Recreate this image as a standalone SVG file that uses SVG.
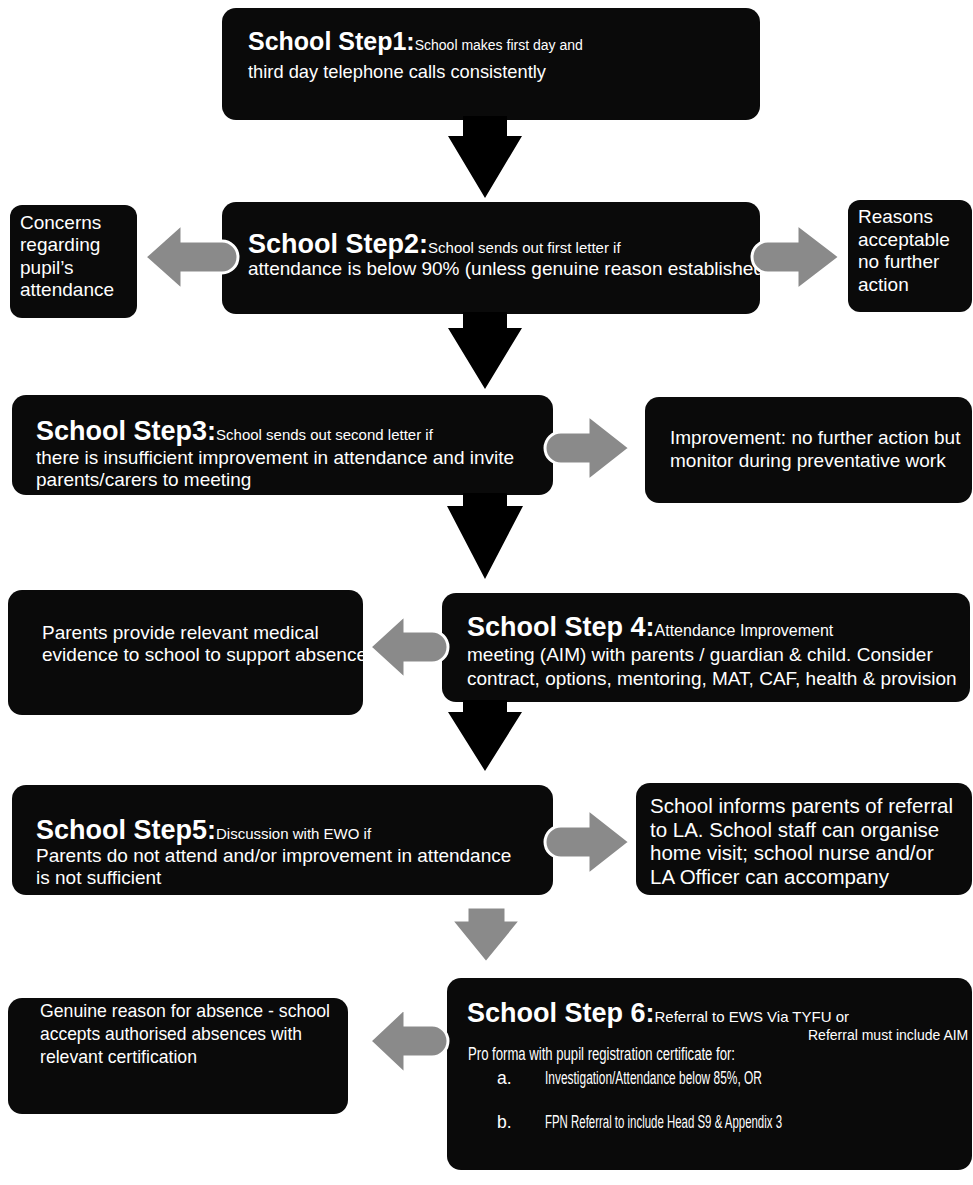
<svg xmlns="http://www.w3.org/2000/svg" width="973" height="1185" viewBox="0 0 973 1185">
<style>
.box{fill:#0a0a0a}
.h{font-family:"Liberation Sans",Arial,sans-serif;font-weight:bold;font-size:27px;fill:#fff}
.s{font-weight:normal;font-size:15px}
.t{font-family:"Liberation Sans",Arial,sans-serif;font-size:19px;fill:#fff}
.c{font-family:"Liberation Sans",Arial,sans-serif;font-size:17.5px;fill:#fff}
.ga{fill:#8a8a8a;stroke:#fff;stroke-width:3}
.ba{fill:#000}
</style>
<defs>
<clipPath id="cb2"><rect x="222" y="202" width="538" height="112" rx="14"/></clipPath>
<clipPath id="cpar"><rect x="8" y="590" width="355" height="125" rx="14"/></clipPath>
<clipPath id="cgen"><rect x="8" y="998" width="340" height="116" rx="14"/></clipPath>
</defs>
<rect width="973" height="1185" fill="#fff"/>

<g id="step1">
<rect class="box" x="222" y="8" width="538" height="112" rx="14"/>
<text class="h" x="248" y="50" style="font-size:25px">School Step1:<tspan class="s" style="font-size:14px">School makes first day and</tspan></text>
<text class="t" x="248" y="78" textLength="298" lengthAdjust="spacingAndGlyphs">third day telephone calls consistently</text>
</g>

<g id="step2">
<rect class="box" x="222" y="202" width="538" height="112" rx="14"/>
<g clip-path="url(#cb2)">
<text class="h" x="248" y="253">School Step2:<tspan class="s">School sends out first letter if</tspan></text>
<text class="t" x="248" y="275" textLength="516" lengthAdjust="spacingAndGlyphs">attendance is below 90% (unless genuine reason established</text>
</g>
</g>

<g id="concerns">
<rect class="box" x="10" y="205" width="127" height="113" rx="12"/>
<text class="t" x="20" y="229">Concerns</text>
<text class="t" x="20" y="251">regarding</text>
<text class="t" x="20" y="274">pupil’s</text>
<text class="t" x="20" y="296">attendance</text>
</g>

<g id="reasons">
<rect class="box" x="848" y="200" width="124" height="112" rx="12"/>
<text class="t" x="858" y="223">Reasons</text>
<text class="t" x="858" y="246">acceptable</text>
<text class="t" x="858" y="268">no further</text>
<text class="t" x="858" y="291">action</text>
</g>

<g id="step3">
<rect class="box" x="12" y="395" width="541" height="100" rx="14"/>
<text class="h" x="36" y="440">School Step3:<tspan class="s">School sends out second letter if</tspan></text>
<text class="t" x="36" y="464">there is insufficient improvement in attendance and invite</text>
<text class="t" x="36" y="486">parents/carers to meeting</text>
</g>

<g id="improvement">
<rect class="box" x="645" y="397" width="327" height="106" rx="14"/>
<text class="t" x="670" y="444">Improvement: no further action but</text>
<text class="t" x="670" y="467">monitor during preventative work</text>
</g>

<g id="parents">
<rect class="box" x="8" y="590" width="355" height="125" rx="14"/>
<g clip-path="url(#cpar)">
<text class="t" x="42" y="639">Parents provide relevant medical</text>
<text class="t" x="42" y="661" textLength="325" lengthAdjust="spacingAndGlyphs">evidence to school to support absence</text>
</g>
</g>

<g id="step4">
<rect class="box" x="442" y="593" width="528" height="109" rx="14"/>
<text class="h" x="467" y="636">School Step 4:<tspan class="s" style="font-size:16px">Attendance Improvement</tspan></text>
<text class="t" x="467" y="661">meeting (AIM) with parents / guardian &amp; child. Consider</text>
<text class="t" x="467" y="685">contract, options, mentoring, MAT, CAF, health &amp; provision</text>
</g>

<g id="step5">
<rect class="box" x="12" y="785" width="541" height="110" rx="14"/>
<text class="h" x="36" y="839">School Step5:<tspan class="s">Discussion with EWO if</tspan></text>
<text class="t" x="36" y="862">Parents do not attend and/or improvement in attendance</text>
<text class="t" x="36" y="884">is not sufficient</text>
</g>

<g id="informs">
<rect class="box" x="636" y="783" width="336" height="112" rx="14"/>
<text class="t" x="650" y="813" style="font-size:20.5px">School informs parents of referral</text>
<text class="t" x="650" y="837" style="font-size:20.5px">to LA. School staff can organise</text>
<text class="t" x="650" y="860" style="font-size:20.5px">home visit; school nurse and/or</text>
<text class="t" x="650" y="884" style="font-size:20.5px">LA Officer can accompany</text>
</g>

<g id="genuine">
<rect class="box" x="8" y="998" width="340" height="116" rx="14"/>
<g clip-path="url(#cgen)">
<text class="t" x="40" y="1017" textLength="290" lengthAdjust="spacingAndGlyphs">Genuine reason for absence - school</text>
<text class="t" x="40" y="1040" textLength="262" lengthAdjust="spacingAndGlyphs">accepts authorised absences with</text>
<text class="t" x="40" y="1063" textLength="157" lengthAdjust="spacingAndGlyphs">relevant certification</text>
</g>
</g>

<g id="step6">
<rect class="box" x="447" y="978" width="525" height="192" rx="14"/>
<text class="h" x="467" y="1022">School Step 6:<tspan class="s">Referral to EWS Via TYFU or</tspan></text>
<text class="t" x="808" y="1040" style="font-size:14px">Referral must include AIM</text>
<text class="c" x="468" y="1060" textLength="267" lengthAdjust="spacingAndGlyphs">Pro forma with pupil registration certificate for:</text>
<text class="c" x="497" y="1084">a.</text>
<text class="c" x="545" y="1084" textLength="217" lengthAdjust="spacingAndGlyphs">Investigation/Attendance below 85%,  OR</text>
<text class="c" x="497" y="1128">b.</text>
<text class="c" x="545" y="1128" textLength="237" lengthAdjust="spacingAndGlyphs">FPN Referral to include Head S9 &amp; Appendix 3</text>
</g>

<g id="connectors">
<path class="ba" d="M463,116 L507,116 L507,136 L522,136 L485,198 L448,136 L463,136 Z"/>
<path class="ba" d="M463,312 L507,312 L507,328 L522,328 L485,389 L448,328 L463,328 Z"/>
<path class="ba" d="M463,493 L507,493 L507,506 L523,506 L485,579 L447,506 L463,506 Z"/>
<path class="ba" d="M463,700 L507,700 L507,712 L522,712 L485,771 L448,712 L463,712 Z"/>
<path class="ga" stroke="none" d="M467,907 L506,907 L506,920 L521,920 L486,963 L451,920 L467,920 Z"/>
<path class="ga" d="M145,257 L182,224 L182,241 L222,241 A16,16 0 0 1 222,273 L182,273 L182,290 Z"/>
<path class="ga" d="M840,257 L797,224 L797,241 L768,241 A16,16 0 0 0 768,273 L797,273 L797,290 Z"/>
<path class="ga" d="M630,448 L588,415 L588,432 L561,432 A16,16 0 0 0 561,464 L588,464 L588,481 Z"/>
<path class="ga" d="M370,647 L405,615 L405,631 L432,631 A16,16 0 0 1 432,663 L405,663 L405,679 Z"/>
<path class="ga" d="M630,842 L588,809 L588,826 L561,826 A16,16 0 0 0 561,858 L588,858 L588,875 Z"/>
<path class="ga" d="M370,1041 L405,1008 L405,1025 L432,1025 A16,16 0 0 1 432,1057 L405,1057 L405,1074 Z"/>
</g>
</svg>
